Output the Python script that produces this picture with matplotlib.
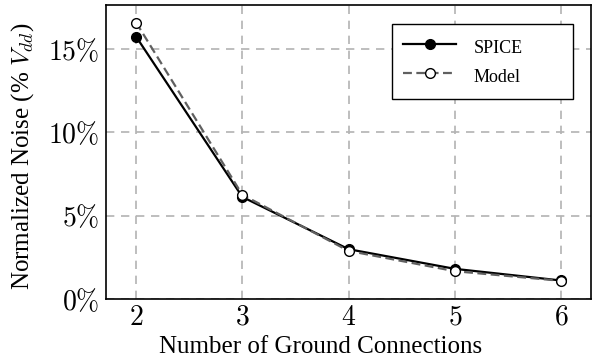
import matplotlib
matplotlib.use('Agg')
import matplotlib.pyplot as plt
from matplotlib.ticker import FuncFormatter

plt.rcParams['font.family'] = ['Liberation Serif', 'DejaVu Serif']
plt.rcParams['mathtext.fontset'] = 'cm'

# data
ground = [2, 3, 4, 5, 6]
spice = [15.75, 6.12, 2.98, 1.80, 1.10]
model = [16.6, 6.25, 2.88, 1.66, 1.08]

fig, ax = plt.subplots(figsize=(6.01, 3.6), dpi=100)
fig.subplots_adjust(left=0.177, right=0.983, top=0.986, bottom=0.17)

ax.plot(ground, spice, color='black', lw=1.6, marker='o', ms=7,
        mfc='black', mec='black', label='SPICE', zorder=3)
ax.plot(ground, model, color='#606060', lw=1.6, ls=(0, (4, 2)), marker='o', ms=7,
        mfc='white', mec='black', mew=1.0, label='Model', zorder=4)

ax.set_xlim(1.72, 6.28)
ax.set_ylim(0, 17.65)
ax.set_xticks(ground)
ax.set_yticks([0, 5, 10, 15])
ax.xaxis.set_major_formatter(FuncFormatter(lambda v, p: r'$%d$' % v))
ax.yaxis.set_major_formatter(FuncFormatter(lambda v, p: r'$%d\%%$' % v))
ax.tick_params(length=0, labelsize=20, pad=5)

ax.grid(True, color='#b3b3b3', ls=(0, (5, 4)), lw=1.2)
ax.set_axisbelow(True)
for s in ax.spines.values():
    s.set_linewidth(1.2)

ax.set_xlabel('Number of Ground Connections', fontsize=18)
ax.set_ylabel(r'Normalized Noise (% $V_{dd}$)', fontsize=18)
ax.xaxis.set_label_coords(0.442, -0.125)
ax.yaxis.set_label_coords(-0.145, 0.485)

leg = ax.legend(loc='upper left', bbox_to_anchor=(0.589, 0.667, 0.374, 0.268),
                mode='expand', fontsize=13, handlelength=2.9, handleheight=1.55,
                handletextpad=1.0, borderpad=0.65, labelspacing=0.35,
                borderaxespad=0, fancybox=False, edgecolor='black', framealpha=1)
leg.get_frame().set_linewidth(1.0)

plt.savefig('out.png', dpi=100)
